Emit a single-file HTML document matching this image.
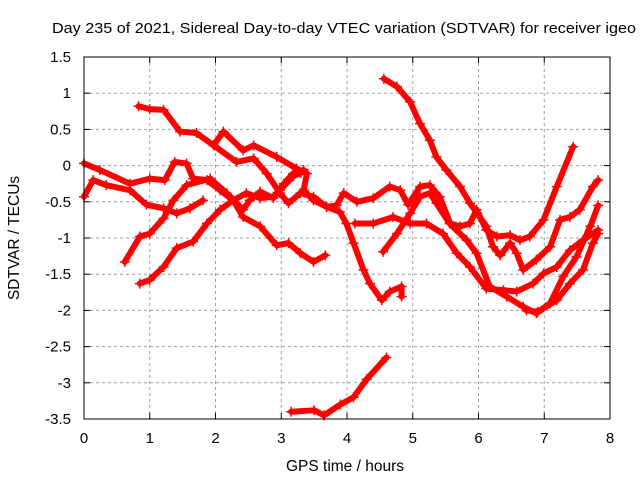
<!DOCTYPE html>
<html><head><meta charset="utf-8"><style>
body{margin:0;background:#fff;}
svg text{font-family:"Liberation Sans",sans-serif;font-size:15px;fill:#000;}
</style></head><body>
<svg id="chart" width="640" height="480" xmlns="http://www.w3.org/2000/svg">
<rect width="640" height="480" fill="#fff"/>
<text x="52" y="33" textLength="584" lengthAdjust="spacingAndGlyphs" style="font-size:15px">Day 235 of 2021, Sidereal Day-to-day VTEC variation (SDTVAR) for receiver igeo</text>
<text x="345" y="471" text-anchor="middle" style="font-size:15.5px">GPS time / hours</text>
<text x="19" y="238" text-anchor="middle" transform="rotate(-90 19 238)" style="font-size:15.5px">SDTVAR / TECUs</text>
<g id="grid"></g>
<g id="series"></g>
<rect x="84" y="57" width="526" height="362" fill="none" stroke="#000" stroke-width="1"/>
<g id="ticks"></g>
</svg>
<script>
const xTicks=[0,1,2,3,4,5,6,7,8];
const yTicks=[-3.5,-3,-2.5,-2,-1.5,-1,-0.5,0,0.5,1,1.5];
const yTickLabels=["-3.5","-3","-2.5","-2","-1.5","-1","-0.5","0","0.5","1","1.5"];
const s1=[[0.83,0.82],[1.0,0.78],[1.21,0.77],[1.46,0.47],[1.71,0.45],[1.97,0.28],[2.32,0.05],[2.58,0.10],[2.78,-0.11],[2.98,-0.38],[3.11,-0.52],[3.29,-0.38],[3.49,-0.43],[3.69,-0.57],[3.84,-0.55],[3.95,-0.38],[4.15,-0.5],[4.40,-0.45],[4.65,-0.29],[4.81,-0.34],[4.93,-0.54],[5.11,-0.29],[5.26,-0.27],[5.41,-0.43],[5.57,-0.8],[5.72,-0.84],[5.87,-0.8],[5.97,-0.61],[6.12,-0.89],[6.28,-0.98],[6.48,-0.96],[6.63,-1.03],[6.78,-0.98],[6.99,-0.75],[7.19,-0.29],[7.44,0.26]];
const s2=[[1.97,0.28],[2.12,0.47],[2.42,0.21],[2.58,0.28],[2.93,0.12],[3.23,-0.04],[3.39,-0.11],[3.34,-0.34],[3.49,-0.48],[3.69,-0.57],[3.89,-0.64],[3.99,-0.8],[4.10,-1.07],[4.25,-1.44],[4.35,-1.63],[4.53,-1.86],[4.65,-1.74],[4.83,-1.67],[4.83,-1.81]];
const s3=[[0.0,0.03],[0.24,-0.06],[0.70,-0.25],[1.0,-0.18],[1.23,-0.2],[1.38,0.05],[1.56,0.03],[1.66,-0.18],[1.87,-0.2],[2.07,-0.34],[2.27,-0.48],[2.42,-0.71],[2.68,-0.84],[2.93,-1.1],[3.11,-1.07],[3.29,-1.21],[3.49,-1.33],[3.67,-1.24]];
const s4=[[0.0,-0.43],[0.14,-0.2],[0.34,-0.27],[0.70,-0.34],[0.95,-0.54],[1.21,-0.59],[1.41,-0.66],[1.61,-0.59],[1.81,-0.48]];
const s5=[[0.62,-1.33],[0.85,-0.98],[1.0,-0.94],[1.21,-0.73],[1.36,-0.48],[1.56,-0.27],[1.92,-0.18],[2.17,-0.38],[2.42,-0.61],[2.52,-0.48],[2.68,-0.36],[2.88,-0.45],[3.04,-0.25],[3.18,-0.11],[3.34,-0.06]];
const s6=[[0.85,-1.63],[1.0,-1.58],[1.21,-1.4],[1.41,-1.14],[1.66,-1.05],[1.87,-0.8],[2.07,-0.61],[2.27,-0.48],[2.47,-0.38],[2.68,-0.45],[2.88,-0.43],[2.98,-0.34],[3.18,-0.15],[3.3,-0.1]];
const s7=[[3.15,-3.4],[3.5,-3.38],[3.65,-3.45],[3.9,-3.3],[4.1,-3.2],[4.3,-2.95],[4.6,-2.65]];
const s8=[[4.56,1.2],[4.76,1.09],[4.96,0.88],[5.11,0.58],[5.26,0.35],[5.36,0.12],[5.51,-0.06],[5.72,-0.29],[5.87,-0.52],[5.98,-0.66],[6.12,-0.84],[6.22,-1.12],[6.33,-1.24],[6.48,-1.07],[6.58,-1.21],[6.68,-1.44],[6.88,-1.3],[7.09,-1.12],[7.24,-0.75],[7.39,-0.71],[7.54,-0.61],[7.74,-0.29],[7.82,-0.2]];
const s9=[[4.12,-0.8],[4.40,-0.8],[4.70,-0.71],[4.96,-0.8],[5.21,-0.8],[5.46,-0.94],[5.67,-1.21],[5.87,-1.4],[6.12,-1.7],[6.38,-1.72],[6.58,-1.74],[6.83,-1.63],[6.99,-1.49],[7.19,-1.4],[7.39,-1.17],[7.59,-1.03],[7.82,-0.89]];
const s10=[[4.55,-1.19],[4.76,-0.94],[4.96,-0.66],[5.11,-0.43],[5.26,-0.38],[5.36,-0.52],[5.56,-0.8],[5.82,-1.03],[5.97,-1.21],[6.17,-1.67],[6.43,-1.81],[6.68,-1.95],[6.88,-2.04],[7.09,-1.9],[7.29,-1.53],[7.49,-1.26],[7.70,-0.84],[7.82,-0.55]];
const s11=[[6.73,-2.0],[6.9,-2.02],[7.19,-1.86],[7.39,-1.63],[7.59,-1.44],[7.74,-1.07],[7.82,-0.94]];
const allSeries=[s1,s2,s3,s4,s5,s6,s7,s8,s9,s10,s11];
const X=v=>84+v*(526/8);
const Y=v=>57+(1.5-v)*(362/5);
const NS="http://www.w3.org/2000/svg";
function mk(t,a,p){const e=document.createElementNS(NS,t);for(const k in a)e.setAttribute(k,a[k]);p.appendChild(e);return e;}
const grid=document.getElementById('grid'),ticks=document.getElementById('ticks'),ser=document.getElementById('series');
xTicks.forEach((t,i)=>{
  if(i>0&&i<xTicks.length-1){const g=mk('line',{x1:X(t),x2:X(t),y1:57,y2:419,stroke:'#a0a0a0','stroke-dasharray':'3,3'},grid);
  
  }
  mk('line',{x1:X(t),x2:X(t),y1:419,y2:413,stroke:'#000'},ticks);
  mk('line',{x1:X(t),x2:X(t),y1:57,y2:63,stroke:'#000'},ticks);
  const l=mk('text',{x:X(t),y:443,'text-anchor':'middle'},ticks);l.textContent=t;
  
  
});
yTicks.forEach((t,i)=>{
  if(i>0&&i<yTicks.length-1){const g=mk('line',{x1:84,x2:610,y1:Y(t),y2:Y(t),stroke:'#a0a0a0','stroke-dasharray':'3,3'},grid);
  
  }
  mk('line',{x1:84,x2:90,y1:Y(t),y2:Y(t),stroke:'#000'},ticks);
  mk('line',{x1:604,x2:610,y1:Y(t),y2:Y(t),stroke:'#000'},ticks);
  const l=mk('text',{x:71,y:Y(t)+5,'text-anchor':'end'},ticks);l.textContent=yTickLabels[i];
  
  
});
allSeries.forEach((s,i)=>{
  const pl=mk('polyline',{points:s.map(p=>X(p[0])+','+Y(p[1])).join(' '),fill:'none',stroke:'#ff0000','stroke-width':6,'stroke-linejoin':'round','stroke-linecap':'round'},ser);
  
  
  s.forEach(p=>{
    const m=mk('path',{d:`M${X(p[0])-5},${Y(p[1])}h10M${X(p[0])},${Y(p[1])-5}v10`,stroke:'#ff0000','stroke-width':1.5},ser);
    
    
  });
});
</script>
</body></html>
